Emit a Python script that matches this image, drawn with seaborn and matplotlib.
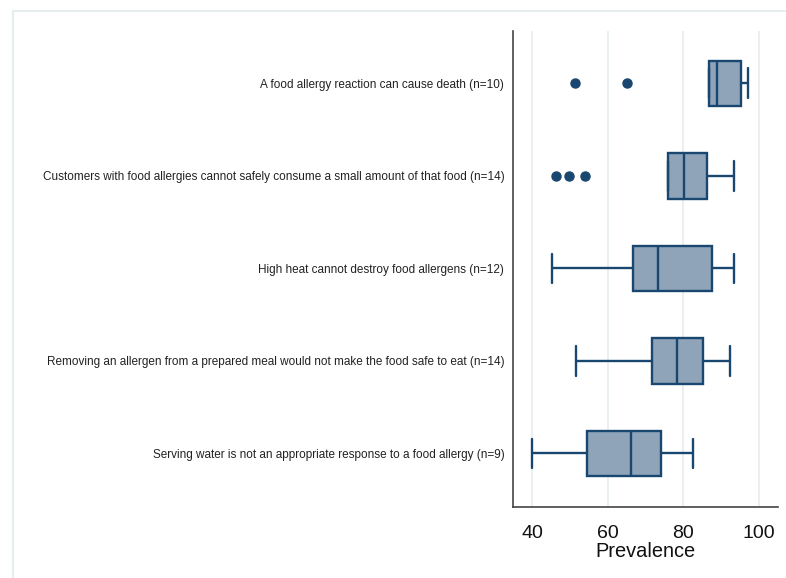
import matplotlib
matplotlib.use("Agg")
import matplotlib.pyplot as plt
from matplotlib.lines import Line2D
import seaborn as sns
import pandas as pd

questions = [
    "A food allergy reaction can cause death (n=10)",
    "Customers with food allergies cannot safely consume a small amount of that food (n=14)",
    "High heat cannot destroy food allergens (n=12)",
    "Removing an allergen from a prepared meal would not make the food safe to eat (n=14)",
    "Serving water is not an appropriate response to a food allergy (n=9)",
]

# estimated per-respondent prevalence values
death = [51.4, 65.0, 86.7, 86.7, 88.9, 88.9, 95.1, 95.1, 96.0, 97.1]
small_amount = [46.3, 49.6, 53.9, 75.8, 75.8, 78.0, 80.2, 80.2, 83.0, 86.3, 86.3, 89.0, 91.0, 93.4]
high_heat = [45.3, 58.0, 66.6, 66.6, 70.0, 73.3, 73.3, 80.0, 87.5, 87.5, 91.0, 93.4]
removing = [51.5, 62.0, 68.0, 71.6, 71.6, 75.0, 78.4, 78.4, 82.0, 85.1, 85.1, 88.0, 90.0, 92.3]
water = [40.0, 48.0, 54.4, 60.0, 66.1, 70.0, 74.0, 78.0, 82.4]

series = [death, small_amount, high_heat, removing, water]
xticks = [40, 60, 80, 100]

df = pd.DataFrame({
    "question": [q for q, s in zip(questions, series) for _ in s],
    "Prevalence": [v for s in series for v in s],
})

navy = "#1a476f"
fill = "#8fa3b9"
grid = "#e6eef0"

sns.set_style("white")
plt.rcParams["font.family"] = ["Liberation Sans", "DejaVu Sans"]

fig = plt.figure(figsize=(7.86, 5.78), dpi=100)
ax = fig.add_axes([512.7 / 786, 1 - 506.7 / 578, (778.3 - 512.7) / 786, (506.7 - 31) / 578])

sns.boxplot(
    data=df, x="Prevalence", y="question", order=questions, orient="h",
    color=fill, saturation=1, linecolor=navy, linewidth=1.7, width=0.49,
    flierprops=dict(marker="o", markersize=6.5, markerfacecolor=navy,
                    markeredgecolor=navy),
    capwidths=0.32,
    ax=ax,
)

ax.set_xlim(34.8, 105.1)
ax.set_ylim(4.575, -0.565)
ax.set_xticks(xticks)
ax.set_xticklabels([str(t) for t in xticks], fontsize=14)
ax.xaxis.grid(True, color=grid, linewidth=1.2)
ax.set_axisbelow(True)
ax.tick_params(axis="x", length=4, width=1, color="#333333", pad=9, colors="#111111")
ax.tick_params(axis="y", length=0, pad=6)
for lab in ax.get_yticklabels():
    lab.set_fontsize(8.5)
    lab.set_color("#222222")
ax.set_ylabel("")
ax.set_xlabel("Prevalence", fontsize=14.4, color="#111111", labelpad=0.5)
for side in ["top", "right"]:
    ax.spines[side].set_visible(False)
for side in ["left", "bottom"]:
    ax.spines[side].set_color("#444444")
    ax.spines[side].set_linewidth(1.2)

# light outer frame of the graph region
fig.add_artist(Line2D([12.7 / 786, 1.0], [1 - 11 / 578, 1 - 11 / 578],
                      transform=fig.transFigure, color=grid, linewidth=1.5))
fig.add_artist(Line2D([12.7 / 786, 12.7 / 786], [0.0, 1 - 11 / 578],
                      transform=fig.transFigure, color=grid, linewidth=1.5))

fig.savefig("out.png", dpi=100)
